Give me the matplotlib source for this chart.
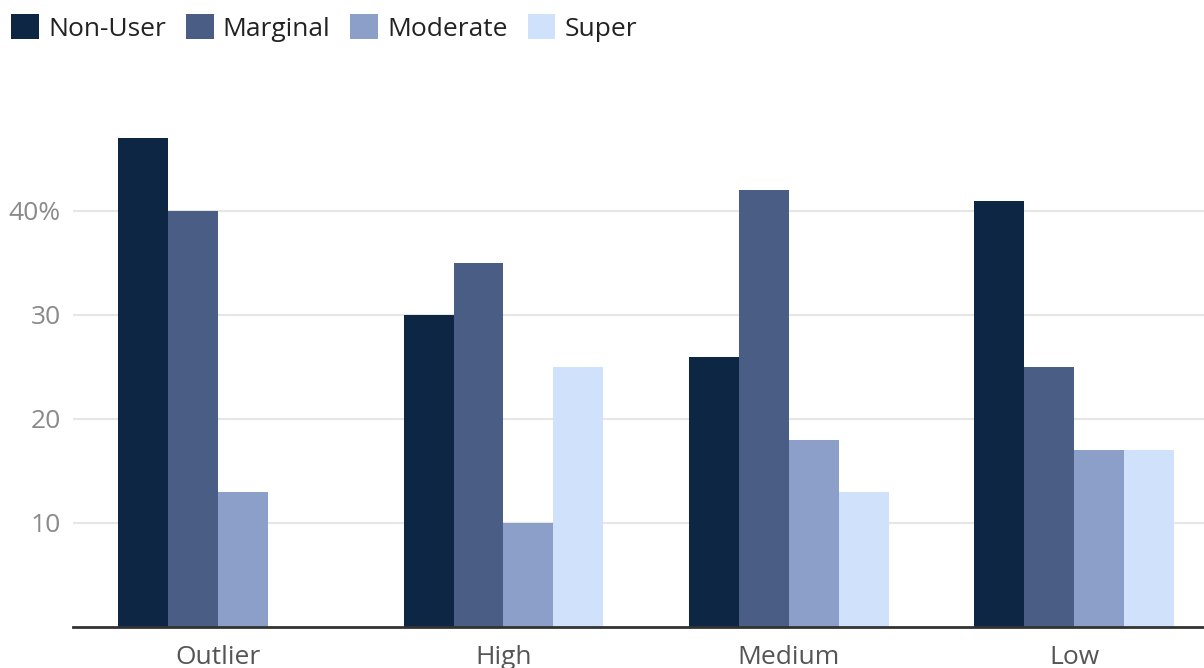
import numpy as np
import matplotlib.pyplot as plt

categorias = ["Outlier", "High", "Medium", "Low"]
series = ["Non-User", "Marginal", "Moderate", "Super"]
non_user = [47, 30, 26, 41]
marginal = [40, 35, 42, 25]
moderate = [13, 10, 18, 17]
super_ = [np.nan, 25, 13, 17]
colores = ["#0d2644", "#4a5e85", "#8b9fc8", "#d0e2fb"]

plt.rcParams['font.family'] = ['Open Sans', 'DejaVu Sans']

fig = plt.figure(figsize=(12.04, 6.68), dpi=100)
ax = fig.add_axes([73 / 1204, 41 / 668, 1131 / 1204, 520 / 668])

x = np.arange(len(categorias))
ancho = 0.175
valores = [non_user, marginal, moderate, super_]
for i, (nombre, vals) in enumerate(zip(series, valores)):
    ax.bar(x + (i - 1.5) * ancho, vals, width=ancho, color=colores[i],
           label=nombre, zorder=3)

ax.set_xlim(-0.508, 3.454)
ax.set_ylim(0, 50)
ax.set_yticks([10, 20, 30, 40])
ax.set_yticklabels(["10", "20", "30", "40%"])
ax.set_xticks(x)
ax.set_xticklabels(categorias)

ax.grid(axis='y', color='#e6e6e6', linewidth=1.5, zorder=0)
for lado in ['top', 'right', 'left']:
    ax.spines[lado].set_visible(False)
ax.spines['bottom'].set_color('#333333')
ax.spines['bottom'].set_linewidth(2)
ax.spines['bottom'].set_zorder(4)

ax.tick_params(axis='y', length=0, pad=9, labelsize=19, labelcolor='#8a8a8a')
ax.tick_params(axis='x', length=0, pad=13, labelsize=19, labelcolor='#555555')

fig.legend(loc='upper left', bbox_to_anchor=(-0.006, 1.006), ncol=4, frameon=False,
           fontsize=19, handlelength=1.05, handleheight=1.05, handletextpad=0.35,
           columnspacing=0.75, borderaxespad=0.3, labelcolor='#222222')

plt.savefig("out.png", dpi=100)
